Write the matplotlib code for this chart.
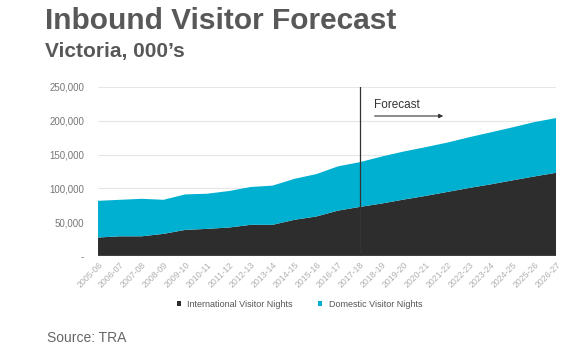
import matplotlib
matplotlib.use("Agg")
import matplotlib.pyplot as plt
from matplotlib.ticker import FuncFormatter

years = ["2005-06","2006-07","2007-08","2008-09","2009-10","2010-11","2011-12",
         "2012-13","2013-14","2014-15","2015-16","2016-17","2017-18","2018-19",
         "2019-20","2020-21","2021-22","2022-23","2023-24","2024-25","2025-26","2026-27"]
international = [27200, 29000, 29000, 32600, 38500, 40000, 42000, 46000, 46000, 53400,
                 58300, 67000, 72500, 77500, 83300, 88700, 94600, 100500, 105900,
                 111800, 117600, 123000]
total = [81500, 83000, 84500, 83000, 91000, 92000, 96000, 102000, 104000, 114000,
         121000, 132500, 138700, 147000, 154400, 160800, 167600, 175500, 182800,
         190200, 198000, 204000]
domestic = [t - i for t, i in zip(total, international)]
forecast_start = "2017-18"

plt.rcParams['font.family'] = ['Liberation Sans', 'DejaVu Sans']
fig = plt.figure(figsize=(5.8, 3.52), dpi=100)
ax = fig.add_axes([0.169, 0.273, 0.790, 0.480])

x = list(range(len(years)))
ax.stackplot(x, international, domestic, colors=["#2d2d2d", "#00b0d0"],
             labels=["International Visitor Nights", "Domestic Visitor Nights"], lw=0)
ax.set_xlim(0, len(years) - 1)
ax.set_ylim(0, 250000)
ax.set_yticks(range(0, 250001, 50000))
ax.yaxis.set_major_formatter(FuncFormatter(lambda v, p: "-" if v == 0 else f"{int(v):,}"))
ax.grid(axis='y', color="#e6e6e6", lw=0.8)
ax.set_axisbelow(True)
for s in ax.spines.values():
    s.set_visible(False)
ax.set_xticks(x)
ax.set_xticklabels(years, rotation=45, ha='right', rotation_mode='anchor',
                   fontsize=6.3, color="#b0b0b0")
ax.tick_params(axis='x', length=0, pad=3)
ax.tick_params(axis='y', length=0, labelsize=7, labelcolor="#777777", pad=10)

fx = years.index(forecast_start)
ax.axvline(fx, color="#333333", lw=0.9, ymin=0, ymax=1)
ax.text(fx + 0.65, 224000, "Forecast", fontsize=8.5, color="#333333", va='center')
ax.annotate("", xy=(fx + 3.95, 207000), xytext=(fx + 0.55, 207000),
            arrowprops=dict(arrowstyle="-|>", color="#333333", lw=0.8, mutation_scale=6))

leg = ax.legend(loc='upper center', bbox_to_anchor=(0.44, -0.21), ncol=2, frameon=False,
                fontsize=6.5, handlelength=0.45, handleheight=0.45, columnspacing=2.8,
                handletextpad=0.7)
for t in leg.get_texts():
    t.set_color("#555555")

fig.text(0.078, 0.94, "Inbound Visitor Forecast", fontsize=21.5, fontweight='bold',
         color="#585858", va='center')
fig.text(0.078, 0.853, "Victoria, 000\u2019s", fontsize=15, fontweight='bold',
         color="#585858", va='center')
fig.text(0.081, 0.040, "Source: TRA", fontsize=10, color="#666666", va='center')

fig.savefig("out.png", dpi=100)
